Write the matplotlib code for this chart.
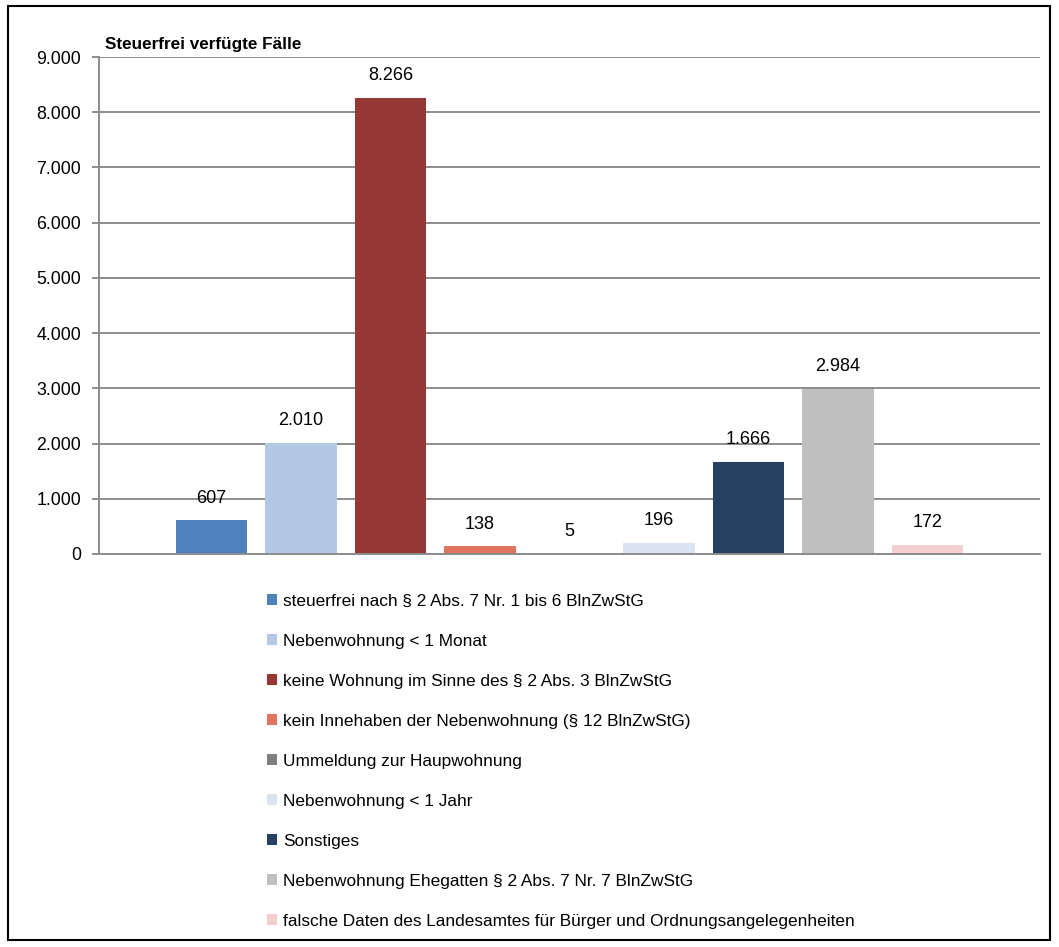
import matplotlib.pyplot as plt
from matplotlib.patches import Patch, Rectangle

plt.rcParams['font.family'] = ['Liberation Sans Narrow', 'Liberation Sans', 'DejaVu Sans']

categories = [
    'steuerfrei nach § 2 Abs. 7 Nr. 1 bis 6 BlnZwStG',
    'Nebenwohnung < 1 Monat',
    'keine Wohnung im Sinne des § 2 Abs. 3 BlnZwStG',
    'kein Innehaben der Nebenwohnung (§ 12 BlnZwStG)',
    'Ummeldung zur Haupwohnung',
    'Nebenwohnung < 1 Jahr',
    'Sonstiges',
    'Nebenwohnung Ehegatten § 2 Abs. 7 Nr. 7 BlnZwStG',
    'falsche Daten des Landesamtes für Bürger und Ordnungsangelegenheiten',
]
values = [607, 2010, 8266, 138, 5, 196, 1666, 2984, 172]
colors = ['#4f81bd', '#b3c9e3', '#953735', '#e1735f', '#7f7f7f',
          '#d9e4f0', '#254061', '#bfbfbf', '#f2d0d0']
yticks = [0, 1000, 2000, 3000, 4000, 5000, 6000, 7000, 8000, 9000]


def fmt(v):
    return f'{v:,}'.replace(',', '.')


W, H = 1059, 947
fig = plt.figure(figsize=(W / 100, H / 100), dpi=100)

# outer frame
fig.patches.append(Rectangle((8 / W, 7 / H), 1042 / W, 934 / H, transform=fig.transFigure,
                             fill=False, edgecolor='black', linewidth=1.5))

ax = fig.add_axes([99 / W, (H - 554) / H, (1040 - 99) / W, (554 - 57) / H])
x = list(range(len(values)))
bars = ax.bar(x, values, width=0.8, color=colors)
half = (1040 - 99) / 89.5 / 2
ax.set_xlim(4 - half, 4 + half)
ax.set_ylim(0, 9000)
ax.set_yticks(yticks)
ax.set_yticklabels([fmt(v) for v in yticks], fontsize=12.8)
ax.set_xticks([])
ax.yaxis.grid(True, color='#8c8c8c', linewidth=1.4)
ax.set_axisbelow(True)
for s in ['top', 'right']:
    ax.spines[s].set_visible(False)
for s in ['left', 'bottom']:
    ax.spines[s].set_color('#8c8c8c')
    ax.spines[s].set_linewidth(1.4)
ax.tick_params(axis='y', length=5, color='#8c8c8c', width=1.4, pad=8)

for b, v in zip(bars, values):
    ax.annotate(fmt(v), (b.get_x() + b.get_width() / 2, v), xytext=(0, 16),
                textcoords='offset points', ha='center', va='center', fontsize=13)

fig.text(105 / W, 1 - 45 / H, 'Steuerfrei verfügte Fälle', fontsize=12.3, fontweight='bold',
         va='center')

handles = [Patch(facecolor=c, edgecolor='none') for c in colors]
fig.legend(handles, categories, loc='upper left', bbox_to_anchor=(260 / W, 1 - 587 / H),
           frameon=False, fontsize=12.4, handlelength=0.6, handleheight=0.6,
           handletextpad=0.35, labelspacing=1.45, borderaxespad=0)

fig.savefig('out.png', dpi=100)
